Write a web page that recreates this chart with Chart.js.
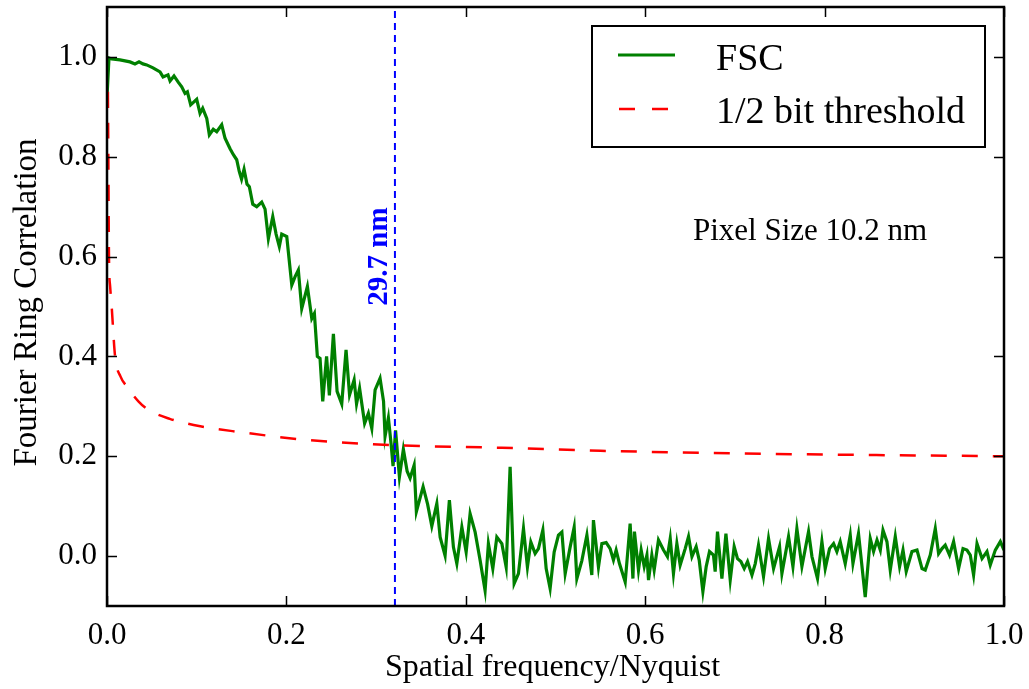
<!DOCTYPE html>
<html>
<head>
<meta charset="utf-8">
<script src="https://cdn.jsdelivr.net/npm/chart.js@4.4.0/dist/chart.umd.min.js"></script>
<style>
  html, body { margin: 0; padding: 0; background: #fff; }
  #wrap { width: 1029px; height: 689px; }
</style>
</head>
<body>
<div id="wrap"><canvas id="fsc-chart"></canvas></div>
<script>
// values
const fscFreq = [0, 0.0022, 0.0052, 0.0145, 0.0256, 0.0312, 0.0357, 0.0401, 0.0443, 0.0513, 0.0591, 0.0625, 0.0680, 0.0703, 0.0747, 0.0792, 0.0833, 0.0870, 0.0896, 0.0933,
  0.1000, 0.1037, 0.1067, 0.1112, 0.1141, 0.1185, 0.1223, 0.1279, 0.1316, 0.1372, 0.1409, 0.1446, 0.1475, 0.1500, 0.1528, 0.1561, 0.1587, 0.1625, 0.1669, 0.1725,
  0.1762, 0.1799, 0.1848, 0.1885, 0.1921, 0.1948, 0.2004, 0.2060, 0.2097, 0.2133, 0.2171, 0.2234, 0.2283, 0.2312, 0.2345, 0.2375, 0.2405, 0.2448, 0.2479, 0.2524,
  0.2565, 0.2617, 0.2665, 0.2704, 0.2755, 0.2782, 0.2816, 0.2872, 0.2914, 0.2952, 0.2989, 0.3044, 0.3083, 0.3100, 0.3137, 0.3167, 0.3189, 0.3217, 0.3260, 0.3304,
  0.3346, 0.3379, 0.3424, 0.3449, 0.3524, 0.3574, 0.3621, 0.3677, 0.3714, 0.3769, 0.3817, 0.3862, 0.3900, 0.3956, 0.4004, 0.4048, 0.4104, 0.4160, 0.4215, 0.4252,
  0.4301, 0.4346, 0.4402, 0.4450, 0.4494, 0.4539, 0.4587, 0.4643, 0.4687, 0.4725, 0.4773, 0.4810, 0.4859, 0.4896, 0.4940, 0.4985, 0.5033, 0.5071, 0.5108, 0.5163,
  0.5208, 0.5238, 0.5294, 0.5350, 0.5405, 0.5423, 0.5479, 0.5517, 0.5565, 0.5609, 0.5646, 0.5676, 0.5713, 0.5777, 0.5832, 0.5863, 0.5880, 0.5925, 0.5955, 0.5989,
  0.6019, 0.6037, 0.6074, 0.6100, 0.6148, 0.6204, 0.6248, 0.6279, 0.6315, 0.6353, 0.6390, 0.6446, 0.6483, 0.6521, 0.6568, 0.6602, 0.6643, 0.6680, 0.6717, 0.6761,
  0.6780, 0.6806, 0.6855, 0.6900, 0.6948, 0.6992, 0.7029, 0.7067, 0.7104, 0.7141, 0.7190, 0.7227, 0.7263, 0.7319, 0.7375, 0.7431, 0.7498, 0.7524, 0.7598, 0.7647,
  0.7691, 0.7747, 0.7821, 0.7859, 0.7921, 0.7970, 0.8007, 0.8055, 0.8100, 0.8137, 0.8174, 0.8230, 0.8286, 0.8316, 0.8378, 0.8453, 0.8509, 0.8546, 0.8584, 0.8621,
  0.8651, 0.8695, 0.8732, 0.8788, 0.8836, 0.8874, 0.8910, 0.8974, 0.9030, 0.9086, 0.9122, 0.9178, 0.9234, 0.9271, 0.9309, 0.9345, 0.9393, 0.9438, 0.9494, 0.9543,
  0.9587, 0.9624, 0.9661, 0.9699, 0.9755, 0.9810, 0.9847, 0.9903, 0.9959, 1.0];
const fscValue = [0.92, 0.998, 0.996, 0.994, 0.99, 0.986, 0.99, 0.986, 0.984, 0.978, 0.97, 0.96, 0.964, 0.952, 0.962, 0.95, 0.94, 0.927, 0.93, 0.904,
  0.915, 0.887, 0.897, 0.877, 0.844, 0.855, 0.85, 0.864, 0.837, 0.816, 0.804, 0.794, 0.77, 0.755, 0.775, 0.745, 0.74, 0.705, 0.70, 0.709,
  0.695, 0.636, 0.68, 0.645, 0.62, 0.645, 0.64, 0.543, 0.56, 0.573, 0.496, 0.54, 0.476, 0.486, 0.40, 0.396, 0.31, 0.40, 0.322, 0.445,
  0.33, 0.305, 0.413, 0.323, 0.353, 0.305, 0.336, 0.266, 0.286, 0.256, 0.333, 0.356, 0.31, 0.24, 0.277, 0.225, 0.18, 0.252, 0.159, 0.214,
  0.17, 0.156, 0.182, 0.089, 0.139, 0.104, 0.06, 0.105, 0.038, 0.001, 0.112, 0.018, -0.015, 0.058, 0.008, 0.085, 0.048, -0.009, -0.069, 0.025,
  -0.025, 0.038, 0.025, -0.022, 0.179, -0.055, -0.035, 0.055, -0.022, 0.028, 0.005, 0.015, 0.052, -0.025, -0.065, 0.008, 0.042, 0.048, -0.035, 0.018,
  0.058, -0.045, -0.009, 0.042, -0.038, 0.072, -0.022, 0.025, 0.027, 0.015, -0.008, 0.012, -0.015, -0.052, 0.065, -0.045, 0.049, -0.028, 0.012, -0.021,
  0.002, -0.048, 0.002, -0.028, 0.032, 0.012, -0.001, 0.035, -0.035, 0.025, -0.018, 0.015, 0.039, -0.001, 0.019, -0.008, -0.071, -0.021, 0.009, 0.002,
  -0.031, 0.049, -0.045, 0.045, -0.048, 0.019, -0.005, -0.011, -0.025, -0.011, -0.038, -0.015, 0.022, -0.041, 0.035, -0.025, 0.019, -0.035, 0.039, -0.021,
  0.055, -0.021, 0.049, -0.001, -0.045, 0.029, -0.025, 0.015, 0.025, 0.009, 0.029, -0.015, 0.042, -0.015, 0.045, -0.082, 0.035, 0.009, 0.032, 0.012,
  0.052, 0.029, -0.028, 0.039, -0.021, 0.012, -0.031, 0.009, 0.012, -0.025, -0.028, 0.002, 0.055, 0.005, 0.015, 0.022, 0.002, 0.029, -0.025, 0.015,
  0.012, 0.002, -0.038, 0.025, -0.005, 0.009, -0.018, 0.012, 0.029, 0.012];

const thresholdFreq = [0.001, 0.0015, 0.0022, 0.0035, 0.0052, 0.009, 0.015, 0.022, 0.035, 0.046, 0.07, 0.104, 0.15, 0.215, 0.26, 0.321, 0.44, 0.55, 0.66, 0.77, 0.88, 1.0];
const thresholdValue = [0.93, 0.80, 0.60, 0.54, 0.50, 0.40, 0.36, 0.34, 0.31, 0.293, 0.275, 0.26, 0.248, 0.234, 0.228, 0.222, 0.217, 0.211, 0.207, 0.204, 0.202, 0.200];

const cutoffFreq = 0.321;
const cutoffLabel = '29.7 nm';
const pixelSizeNote = 'Pixel Size 10.2 nm';
const seriesNames = ['FSC', '1/2 bit threshold'];
const xTicks = [0, 0.2, 0.4, 0.6, 0.8, 1.0];
const yTicks = [0, 0.2, 0.4, 0.6, 0.8, 1.0];
const xTitle = 'Spatial frequency/Nyquist';
const yTitle = 'Fourier Ring Correlation';

const serif = '"Liberation Serif", "Times New Roman", serif';
const green = '#008000';
const red = '#ff0000';
const blue = '#0000ff';

const toPoints = (xs, ys) => xs.map((x, i) => ({ x: x, y: ys[i] }));

// frame, inward ticks, titles, notes and the boxed legend
const decorations = {
  id: 'decorations',
  afterDraw(chart) {
    const { ctx, chartArea: a, scales } = chart;
    const xs = scales.x, ys = scales.y;
    ctx.save();

    ctx.strokeStyle = '#000';
    ctx.lineWidth = 1.5;
    xTicks.forEach(v => {
      const p = Math.round(xs.getPixelForValue(v)) + 0.5;
      ctx.beginPath();
      ctx.moveTo(p, a.bottom); ctx.lineTo(p, a.bottom - 10);
      ctx.moveTo(p, a.top); ctx.lineTo(p, a.top + 10);
      ctx.stroke();
    });
    yTicks.forEach(v => {
      const p = Math.round(ys.getPixelForValue(v)) + 0.5;
      ctx.beginPath();
      ctx.moveTo(a.left, p); ctx.lineTo(a.left + 10, p);
      ctx.moveTo(a.right, p); ctx.lineTo(a.right - 10, p);
      ctx.stroke();
    });

    ctx.lineWidth = 2.5;
    ctx.strokeRect(a.left, a.top, a.right - a.left, a.bottom - a.top);

    ctx.fillStyle = '#000';
    ctx.font = '32px ' + serif;
    ctx.textAlign = 'center';
    ctx.textBaseline = 'alphabetic';
    ctx.fillText(xTitle, (a.left + a.right) / 2 - 3, 676);

    ctx.save();
    ctx.font = '33px ' + serif;
    ctx.translate(36, (a.top + a.bottom) / 2 - 4);
    ctx.rotate(-Math.PI / 2);
    ctx.fillText(yTitle, 0, 0);
    ctx.restore();

    // cutoff annotation
    ctx.save();
    ctx.fillStyle = blue;
    ctx.font = 'bold 29px ' + serif;
    ctx.translate(xs.getPixelForValue(cutoffFreq) - 8, ys.getPixelForValue(0.6));
    ctx.rotate(-Math.PI / 2);
    ctx.fillText(cutoffLabel, 0, 0);
    ctx.restore();

    ctx.font = '31px ' + serif;
    ctx.textAlign = 'left';
    ctx.fillText(pixelSizeNote, 693, 240);

    // legend box
    const lx = 592, ly = 26, lw = 393, lh = 121;
    ctx.fillStyle = '#fff';
    ctx.fillRect(lx, ly, lw, lh);
    ctx.lineWidth = 2;
    ctx.strokeStyle = '#000';
    ctx.strokeRect(lx, ly, lw, lh);

    ctx.lineWidth = 3;
    ctx.strokeStyle = green;
    ctx.beginPath(); ctx.moveTo(618, 55); ctx.lineTo(675, 55); ctx.stroke();
    ctx.lineWidth = 2.5;
    ctx.strokeStyle = red;
    ctx.setLineDash([16, 17]);
    ctx.beginPath(); ctx.moveTo(619, 109); ctx.lineTo(668, 109); ctx.stroke();
    ctx.setLineDash([]);

    ctx.fillStyle = '#000';
    ctx.font = '38px ' + serif;
    ctx.fillText(seriesNames[0], 716, 70);
    ctx.fillText(seriesNames[1], 716, 123);

    ctx.restore();
  }
};

new Chart(document.getElementById('fsc-chart'), {
  type: 'line',
  data: {
    datasets: [
      {
        label: seriesNames[0],
        data: toPoints(fscFreq, fscValue),
        borderColor: green,
        borderWidth: 3.2,
        pointRadius: 0,
        tension: 0,
        order: 2
      },
      {
        label: seriesNames[1],
        data: toPoints(thresholdFreq, thresholdValue),
        borderColor: red,
        borderWidth: 2.5,
        borderDash: [16, 15],
        pointRadius: 0,
        cubicInterpolationMode: 'monotone',
        order: 1
      },
      {
        label: 'cutoff',
        data: [{ x: cutoffFreq, y: -0.1 }, { x: cutoffFreq, y: 1.1 }],
        borderColor: blue,
        borderWidth: 2,
        borderDash: [7, 5],
        pointRadius: 0,
        order: 0
      }
    ]
  },
  options: {
    responsive: true,
    maintainAspectRatio: false,
    animation: false,
    layout: { padding: { top: 7, right: 25, left: 0, bottom: 0 } },
    plugins: { legend: { display: false }, tooltip: { enabled: false } },
    scales: {
      x: {
        type: 'linear',
        min: 0,
        max: 1,
        grid: { display: false, drawTicks: false },
        border: { display: false },
        afterBuildTicks: s => { s.ticks = xTicks.map(v => ({ value: v })); },
        afterFit: s => { s.height = 83; s.paddingLeft = 0; s.paddingRight = 0; },
        ticks: {
          color: '#000',
          font: { family: serif, size: 31 },
          padding: 11,
          maxRotation: 0,
          autoSkip: false,
          callback: v => v.toFixed(1)
        }
      },
      y: {
        min: -0.1,
        max: 1.1,
        grid: { display: false, drawTicks: false },
        border: { display: false },
        afterBuildTicks: s => { s.ticks = yTicks.map(v => ({ value: v })); },
        afterFit: s => { s.width = 107; s.paddingTop = 0; s.paddingBottom = 0; },
        ticks: {
          color: '#000',
          font: { family: serif, size: 31 },
          padding: 10,
          autoSkip: false,
          callback: v => v.toFixed(1)
        }
      }
    }
  },
  plugins: [decorations]
});
</script>
</body>
</html>
